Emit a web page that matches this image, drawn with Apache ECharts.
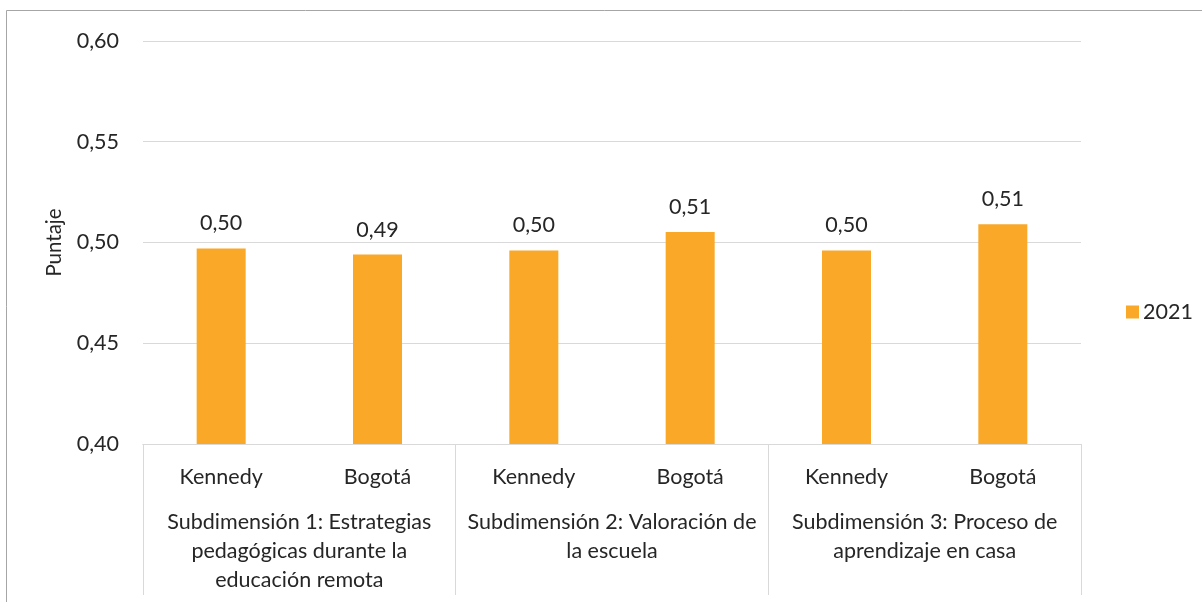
<!DOCTYPE html>
<html>
<head>
<meta charset="utf-8">
<script src="https://cdn.jsdelivr.net/npm/echarts@6/dist/echarts.min.js"></script>
<style>
html,body{margin:0;padding:0;background:#fff;}
#chart{width:1202px;height:602px;}
</style>
</head>
<body>
<div id="chart"></div>
<script>
// Data
const places = ['Kennedy', 'Bogotá', 'Kennedy', 'Bogotá', 'Kennedy', 'Bogotá'];
const groups = [
  'Subdimensión 1: Estrategias\npedagógicas durante la\neducación remota',
  'Subdimensión 2: Valoración de\nla escuela',
  'Subdimensión 3: Proceso de\naprendizaje en casa'
];
const seriesName = '2021';
const values2021 = [0.497, 0.494, 0.496, 0.5052, 0.496, 0.509];
const yMin = 0.40, yMax = 0.60, yStep = 0.05;

const FONT = 'Lato';
const FS = 21.5;
const TXT = '#262626';
const GRID = '#d9d9d9';
const fmt = v => Number(v).toFixed(2).replace('.', ',');

const chart = echarts.init(document.getElementById('chart'), null, {renderer: 'canvas'});
chart.setOption({
  animation: false,
  backgroundColor: '#fff',
  textStyle: {fontFamily: FONT, color: TXT},
  graphic: [{
    type: 'polyline',
    shape: {points: [[6.5, 640], [6.5, 10.5], [1210, 10.5]]},
    style: {fill: null, stroke: '#a6a6a6', lineWidth: 1},
    silent: true
  }],
  grid: {left: 143, right: 121, top: 41, bottom: 158, containLabel: false},
  legend: {
    data: [seriesName],
    left: 1121, top: 296,
    icon: 'rect', itemWidth: 13, itemHeight: 13, itemGap: 6,
    textStyle: {fontFamily: FONT, fontSize: FS, color: TXT, padding: [0, 0, 0, -1]}
  },
  xAxis: [{
    type: 'category',
    data: places,
    gridIndex: 0,
    position: 'bottom',
    axisLine: {show: true, lineStyle: {color: GRID, width: 1}},
    axisTick: {show: false},
    axisLabel: {fontFamily: FONT, fontSize: FS, color: TXT, margin: 22, interval: 0}
  }, {
    type: 'category',
    data: groups,
    gridIndex: 0,
    position: 'bottom',
    offset: 0,
    axisLine: {show: true, lineStyle: {color: GRID, width: 1}},
    axisTick: {show: true, length: 151, interval: 0, alignWithLabel: false, lineStyle: {color: GRID, width: 1}},
    axisLabel: {fontFamily: FONT, fontSize: FS, color: TXT, margin: 64, lineHeight: 29, interval: 0, align: 'center'}
  }],
  yAxis: {
    type: 'value',
    min: yMin, max: yMax, interval: yStep,
    name: 'Puntaje',
    nameLocation: 'middle',
    nameGap: 78,
    nameRotate: 90,
    nameTextStyle: {fontFamily: FONT, fontSize: 20.5, color: TXT},
    axisLine: {show: false},
    axisTick: {show: false},
    axisLabel: {fontFamily: FONT, fontSize: FS, color: TXT, margin: 24, formatter: fmt},
    splitLine: {show: true, lineStyle: {color: GRID, width: 1}}
  },
  series: [{
    name: seriesName,
    type: 'bar',
    xAxisIndex: 0,
    data: values2021,
    barWidth: 49,
    itemStyle: {color: '#F9A828'},
    label: {
      show: true, position: 'top', distance: 14,
      fontFamily: FONT, fontSize: FS, color: TXT,
      formatter: p => fmt(p.value)
    }
  }]
});
</script>
</body>
</html>
